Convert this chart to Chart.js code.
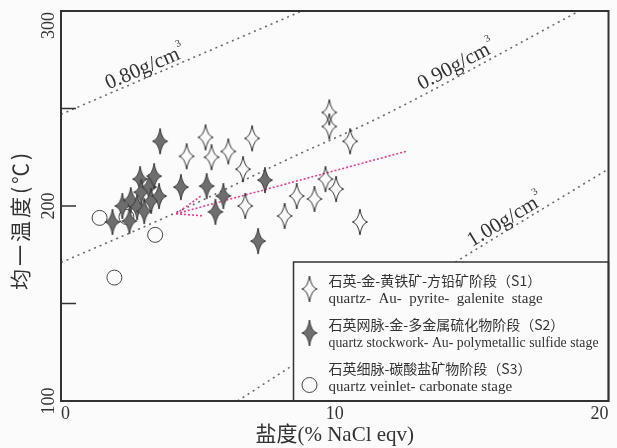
<!DOCTYPE html>
<html>
<head>
<meta charset="utf-8">
<script src="https://cdn.jsdelivr.net/npm/chart.js@4.4.1/dist/chart.umd.min.js"></script>
<style>
  html, body { margin: 0; padding: 0; background: #fbfbfb; }
  canvas { display: block; }
</style>
</head>
<body>
<canvas id="chart" width="617" height="448"></canvas>
<script>
// S1: quartz-Au-pyrite-galenite stage
const s1Salinity = [4.59, 5.28, 5.50, 6.11, 6.98, 6.65, 6.73, 8.17, 8.61, 9.26, 9.66, 10.05, 9.80, 9.80, 10.56, 10.92];
const s1Temp = [225.5, 235.2, 225.0, 228.0, 234.7, 218.9, 200.0, 194.9, 205.1, 203.6, 213.8, 208.7, 248.0, 240.8, 233.2, 191.8];

// S2: quartz stockwork-Au-polymetallic sulfide stage
const s2Salinity = [3.62, 4.38, 5.32, 5.93, 5.64, 7.45, 7.20, 1.88, 2.24, 2.50, 2.55, 2.78, 2.89, 2.93, 3.04, 3.22, 3.29, 3.40, 3.58];
const s2Temp = [233.2, 209.7, 210.2, 205.1, 197.0, 213.3, 182.0, 191.8, 200.0, 192.3, 203.0, 199.5, 213.8, 207.1, 197.4, 209.7, 202.6, 215.3, 205.1];

// S3: quartz veinlet-carbonate stage
const s3Salinity = [1.41, 2.39, 3.44, 1.95];
const s3Temp = [193.9, 194.4, 185.2, 163.3];

// isochores (density lines)
const iso080 = [[0, 247], [4.4, 273.5], [8.8, 300]];
const iso090 = [[0, 171], [4.1, 196], [8.6, 226], [11.5, 244.5], [19, 300.5]];
const iso100 = [[6.45, 100], [8.6, 119.5], [14.5, 172], [20, 219]];
const densityLabels = ['0.80g/cm', '0.90g/cm', '1.00g/cm'];
const densityLabelX = [3.2, 14.6, 16.4];

// magenta trend arrow
const arrowShaft = [[12.6, 228], [4.2, 196]];
const arrowHeadUp = [[5.1, 205], [4.2, 196]];
const arrowHeadDown = [[5.15, 195], [4.2, 196]];

const xTicks = [0, 10, 20];
const yTickLabels = [100, 200, 300];
const yTickMarks = [150, 200, 250];

const legendRows = [
  ['石英-金-黄铁矿-方铅矿阶段（S1）', 'quartz-  Au-  pyrite-  galenite  stage'],
  ['石英网脉-金-多金属硫化物阶段（S2）', 'quartz stockwork- Au- polymetallic sulfide stage'],
  ['石英细脉-碳酸盐矿物阶段（S3）', 'quartz veinlet- carbonate stage']
];

const serif = "'Liberation Serif', 'Times New Roman', serif";
const ink = '#333333';

function pts(xs, ys) { return xs.map((v, i) => ({ x: v, y: ys[i] })); }
function pairs(arr) { return arr.map(p => ({ x: p[0], y: p[1] })); }

function makeStar(fill, stroke) {
  const c = document.createElement('canvas');
  c.width = 18; c.height = 30;
  const g = c.getContext('2d');
  g.translate(9, 15);
  const h = 13, w = 7.5, k = 1.6;
  g.beginPath();
  g.moveTo(0, -h);
  g.quadraticCurveTo(k, -k, w, 0);
  g.quadraticCurveTo(k, k, 0, h);
  g.quadraticCurveTo(-k, k, -w, 0);
  g.quadraticCurveTo(-k, -k, 0, -h);
  g.closePath();
  if (fill) { g.fillStyle = fill; g.fill(); }
  g.lineWidth = 1;
  g.strokeStyle = stroke;
  g.stroke();
  return c;
}
const openStar = makeStar(null, '#333');
const fullStar = makeStar('#6e6e6e', '#3a3a3a');

function dotted(data, color, dash, order) {
  return {
    type: 'line', data: pairs(data), borderColor: color, borderWidth: 1.6,
    borderDash: dash, pointRadius: 0, fill: false, order: order,
    cubicInterpolationMode: 'monotone'
  };
}

function interpY(line, xv) {
  for (let i = 0; i < line.length - 1; i++) {
    const a = line[i], b = line[i + 1];
    if (xv >= a[0] && xv <= b[0]) return a[1] + (b[1] - a[1]) * (xv - a[0]) / (b[0] - a[0]);
  }
  return line[line.length - 1][1];
}

const decor = {
  id: 'decor',
  afterDatasetsDraw(chart) {
    const { ctx, chartArea: a, scales: { x, y } } = chart;
    ctx.save();

    // density labels along the isochores
    [iso080, iso090, iso100].forEach((line, i) => {
      const lx = densityLabelX[i];
      const px = x.getPixelForValue(lx), py = y.getPixelForValue(interpY(line, lx));
      const dx = x.getPixelForValue(lx + 0.5) - x.getPixelForValue(lx - 0.5);
      const dy = y.getPixelForValue(interpY(line, lx + 0.5)) - y.getPixelForValue(interpY(line, lx - 0.5));
      const ang = Math.atan2(dy, dx);
      ctx.save();
      ctx.translate(px, py);
      ctx.rotate(ang);
      ctx.fillStyle = ink;
      ctx.font = '21px ' + serif;
      const wm = ctx.measureText(densityLabels[i]).width;
      ctx.font = '10px ' + serif;
      const ws = ctx.measureText('3').width;
      const x0 = -(wm + ws) / 2;
      ctx.textBaseline = 'alphabetic';
      ctx.textAlign = 'left';
      ctx.font = '21px ' + serif;
      ctx.fillText(densityLabels[i], x0, -4);
      ctx.font = '10px ' + serif;
      ctx.fillText('3', x0 + wm + 1, -16);
      ctx.restore();
    });

    // legend box
    const L = a.right - 315, T = a.bottom - 139;
    ctx.fillStyle = '#fbfbfb';
    ctx.fillRect(L, T, 315, 139);
    ctx.strokeStyle = ink;
    ctx.lineWidth = 1.5;
    ctx.strokeRect(L, T, 315, 139);
    const rowY = [T + 19, T + 63, T + 107];
    const enW = [227, 270, 198];
    legendRows.forEach((row, i) => {
      const cy = rowY[i];
      if (i === 0) ctx.drawImage(openStar, L + 7, cy + 8 - 15);
      if (i === 1) ctx.drawImage(fullStar, L + 7, cy + 8 - 15);
      if (i === 2) {
        ctx.beginPath();
        ctx.arc(L + 16, cy + 16, 7.5, 0, Math.PI * 2);
        ctx.lineWidth = 1;
        ctx.strokeStyle = '#444';
        ctx.stroke();
      }
      ctx.fillStyle = ink;
      ctx.textAlign = 'left';
      ctx.textBaseline = 'middle';
      ctx.font = "14px 'Noto Sans CJK SC', sans-serif";
      ctx.fillText(row[0], L + 35, cy);
      ctx.font = '15px ' + serif;
      ctx.fillText(row[1], L + 35, cy + 18, enW[i]);
    });

    // frame and inward ticks
    ctx.strokeStyle = ink;
    ctx.lineWidth = 2;
    ctx.strokeRect(a.left, a.top, a.width, a.height);
    ctx.lineWidth = 1.5;
    yTickMarks.forEach(v => {
      const p = y.getPixelForValue(v);
      ctx.beginPath();
      ctx.moveTo(a.left, p);
      ctx.lineTo(a.left + 15, p);
      ctx.stroke();
    });

    // y tick labels (rotated)
    ctx.fillStyle = ink;
    ctx.font = '18px ' + serif;
    ctx.textAlign = 'center';
    ctx.textBaseline = 'middle';
    yTickLabels.forEach(v => {
      const p = y.getPixelForValue(v);
      const w = ctx.measureText(String(v)).width;
      const c = Math.max(p, a.top + w / 2 + 1);
      ctx.save();
      ctx.translate(49, c);
      ctx.rotate(-Math.PI / 2);
      ctx.fillText(String(v), 0, 0);
      ctx.restore();
    });

    // y axis title
    ctx.save();
    ctx.translate(20, 220);
    ctx.rotate(-Math.PI / 2);
    ctx.font = "21px 'Noto Sans CJK SC', sans-serif";
    ctx.letterSpacing = '3px';
    ctx.fillText('均一温度(℃)', 0, 0);
    ctx.restore();

    ctx.restore();
  }
};

new Chart(document.getElementById('chart'), {
  type: 'scatter',
  data: {
    datasets: [
      dotted(iso080, '#6a6a6a', [2, 4], 10),
      dotted(iso090, '#6a6a6a', [2, 4], 10),
      dotted(iso100, '#6a6a6a', [2, 4], 10),
      dotted(arrowShaft, '#f0388f', [2, 2], 9),
      dotted(arrowHeadUp, '#f0388f', [2, 2], 9),
      dotted(arrowHeadDown, '#f0388f', [2, 2], 9),
      {
        label: 'S3', data: pts(s3Salinity, s3Temp), order: 3,
        pointStyle: 'circle', pointRadius: 7.5, borderWidth: 1,
        borderColor: '#444', backgroundColor: 'rgba(0,0,0,0)'
      },
      {
        label: 'S1', data: pts(s1Salinity, s1Temp), order: 2,
        pointStyle: openStar
      },
      {
        label: 'S2', data: pts(s2Salinity, s2Temp), order: 1,
        pointStyle: fullStar
      }
    ]
  },
  options: {
    responsive: false,
    animation: false,
    events: [],
    layout: { padding: { top: 11, right: 3, left: 0, bottom: 0 } },
    plugins: { legend: { display: false }, tooltip: { enabled: false } },
    scales: {
      x: {
        type: 'linear', min: 0, max: 20,
        afterFit(s) { s.height = 47; },
        afterBuildTicks(s) { s.ticks = xTicks.map(v => ({ value: v })); },
        grid: { display: false, drawTicks: false },
        border: { display: false },
        ticks: { align: 'inner', padding: 2, color: ink, font: { family: serif, size: 18 } },
        title: {
          display: true, text: '盐度(% NaCl eqv)', color: ink,
          font: { family: "'Liberation Serif', 'Noto Sans CJK SC', serif", size: 21 },
          padding: { top: 0, bottom: 0 }
        }
      },
      y: {
        type: 'linear', min: 100, max: 300,
        afterFit(s) { s.width = 61; },
        grid: { display: false, drawTicks: false },
        border: { display: false },
        ticks: { display: false, stepSize: 50 }
      }
    }
  },
  plugins: [decor]
});
</script>
</body>
</html>
